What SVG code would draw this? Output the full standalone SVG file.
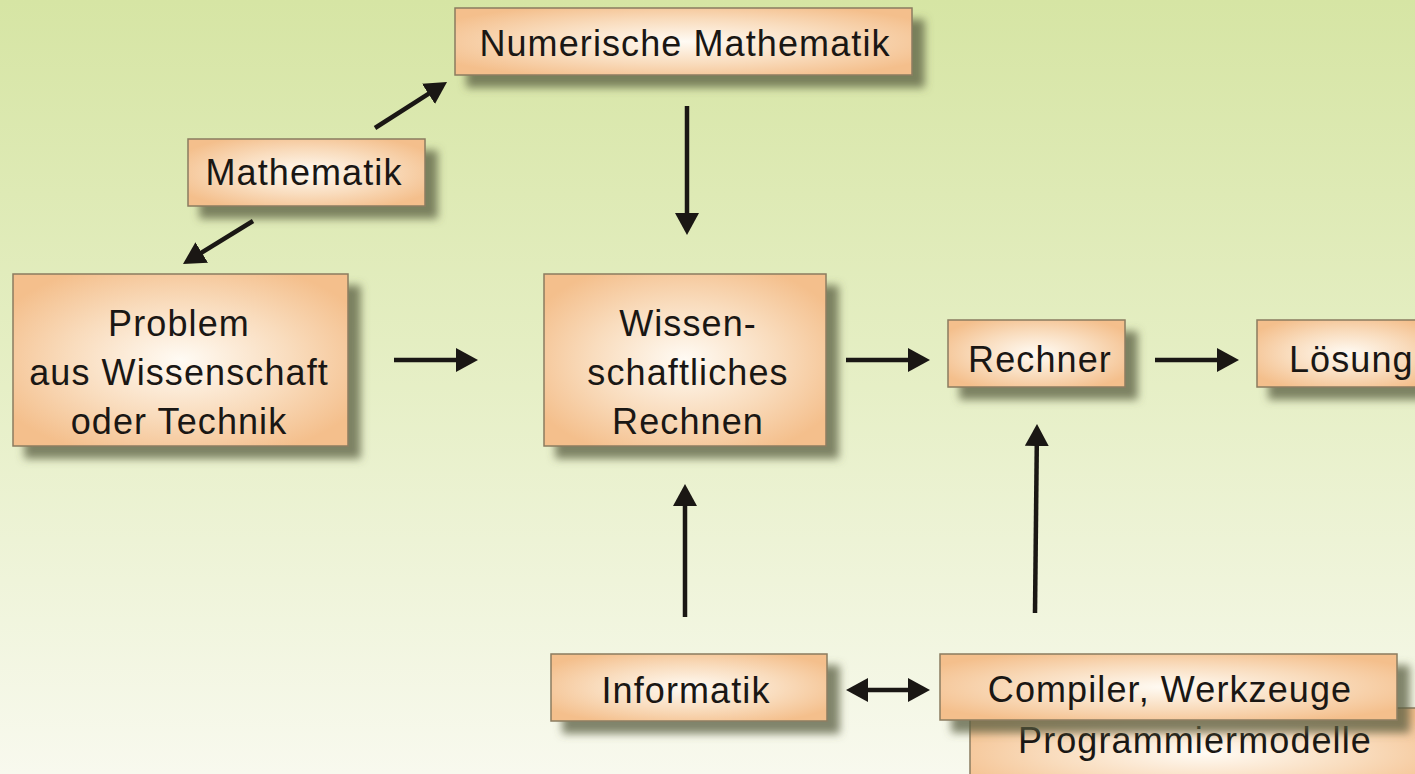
<svg xmlns="http://www.w3.org/2000/svg" width="1415" height="774" viewBox="0 0 1415 774">
  <defs>
    <linearGradient id="bg" x1="0" y1="0" x2="0" y2="1">
      <stop offset="0" stop-color="#d6e5a4"/>
      <stop offset="0.5" stop-color="#e6efc6"/>
      <stop offset="1" stop-color="#f8f9ee"/>
    </linearGradient>
    <radialGradient id="boxfill" cx="0.5" cy="0.5" r="0.6">
      <stop offset="0" stop-color="#fffbf4"/>
      <stop offset="0.55" stop-color="#f9dcbd"/>
      <stop offset="1" stop-color="#f4bf8c"/>
    </radialGradient>
    <filter id="shadow" x="-10%" y="-20%" width="130%" height="160%">
      <feDropShadow dx="12" dy="12" stdDeviation="4" flood-color="#585d40" flood-opacity="0.75"/>
    </filter>
    <marker id="ah" viewBox="0 0 22 24" refX="12" refY="12" markerWidth="22" markerHeight="24" markerUnits="userSpaceOnUse" orient="auto-start-reverse">
      <path d="M0,0 L22,12 L0,24 z" fill="#1a1714"/>
    </marker>
    <style>
      .box { fill: url(#boxfill); stroke: #8b7c60; stroke-width: 1.5; filter: url(#shadow); }
      .lbl { font-family: "Liberation Sans", Arial, Helvetica, sans-serif; font-size: 36px; letter-spacing: 1.1px; fill: #1a1714; text-anchor: middle; }
      .conn { stroke: #1a1714; stroke-width: 4.5; fill: none; marker-end: url(#ah); }
    </style>
  </defs>

  <rect x="0" y="0" width="1415" height="774" fill="url(#bg)"/>

  <g id="node-programmiermodelle">
    <rect class="box" x="970" y="708" width="470" height="90"/>
    <text class="lbl" x="1195" y="753">Programmiermodelle</text>
  </g>

  <g id="node-numerische">
    <rect class="box" x="455" y="8" width="457" height="67"/>
    <text class="lbl" x="685" y="56">Numerische Mathematik</text>
  </g>

  <g id="node-mathematik">
    <rect class="box" x="188" y="139" width="237" height="67"/>
    <text class="lbl" x="304" y="185">Mathematik</text>
  </g>

  <g id="node-problem">
    <rect class="box" x="13" y="274" width="335" height="172"/>
    <text class="lbl" x="179" y="336">Problem</text>
    <text class="lbl" x="179" y="385">aus Wissenschaft</text>
    <text class="lbl" x="179" y="434">oder Technik</text>
  </g>

  <g id="node-wissenschaftliches">
    <rect class="box" x="544" y="274" width="282" height="172"/>
    <text class="lbl" x="688" y="336">Wissen-</text>
    <text class="lbl" x="688" y="385">schaftliches</text>
    <text class="lbl" x="688" y="434">Rechnen</text>
  </g>

  <g id="node-rechner">
    <rect class="box" x="948" y="320" width="177" height="67"/>
    <text class="lbl" x="1040" y="372">Rechner</text>
  </g>

  <g id="node-loesung">
    <rect class="box" x="1257" y="320" width="180" height="67"/>
    <text class="lbl" x="1289" y="372" style="text-anchor:start">Lösung</text>
  </g>

  <g id="node-informatik">
    <rect class="box" x="551" y="654" width="276" height="67"/>
    <text class="lbl" x="686" y="703">Informatik</text>
  </g>

  <g id="node-compiler">
    <rect class="box" x="940" y="654" width="457" height="66"/>
    <text class="lbl" x="1170" y="702">Compiler, Werkzeuge</text>
  </g>

  <g id="connectors">
    <line class="conn" x1="375" y1="128" x2="438.6" y2="87.4"/>
    <line class="conn" x1="253" y1="221" x2="191.5" y2="258.8"/>
    <line class="conn" x1="687" y1="106" x2="687" y2="225"/>
    <line class="conn" x1="394" y1="360" x2="468" y2="360"/>
    <line class="conn" x1="846" y1="360" x2="920" y2="360"/>
    <line class="conn" x1="1155" y1="360" x2="1229" y2="360"/>
    <line class="conn" x1="685" y1="617" x2="685" y2="494"/>
    <line class="conn" x1="1035" y1="613" x2="1036.9" y2="434"/>
    <line class="conn" x1="856" y1="690" x2="920" y2="690" style="marker-start:url(#ah)"/>
  </g>
</svg>
